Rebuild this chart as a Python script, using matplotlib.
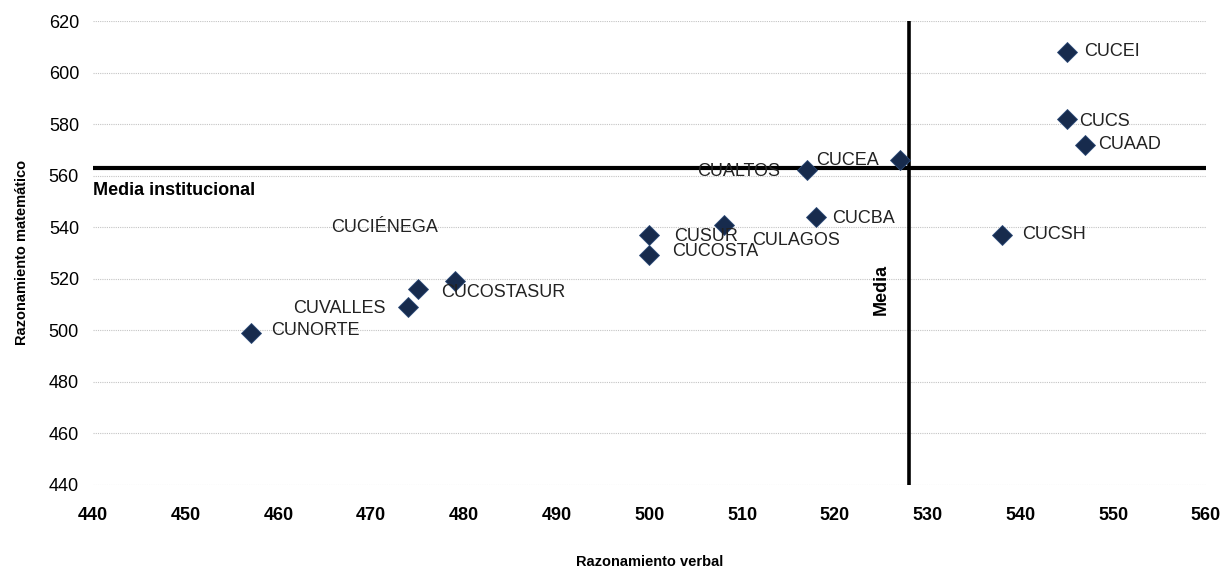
import matplotlib

matplotlib.use("Agg")
import matplotlib.pyplot as plt  # noqa: E402
from matplotlib import font_manager  # noqa: E402

names = {f.name for f in font_manager.fontManager.ttflist}
FONT = "Liberation Sans Narrow" if "Liberation Sans Narrow" in names else "Liberation Sans"
plt.rcParams["font.family"] = [FONT, "DejaVu Sans"]

# data
centros = ["CUNORTE", "CUVALLES", "CUCIÉNEGA", "CUCOSTASUR", "CUSUR", "CUCOSTA",
           "CULAGOS", "CUALTOS", "CUCEA", "CUCBA", "CUCSH", "CUCEI", "CUCS", "CUAAD"]
verbal = [457, 474, 475, 479, 500, 500, 508, 517, 527, 518, 538, 545, 545, 547]
matematico = [499, 509, 516, 519, 537, 529, 541, 562, 566, 544, 537, 608, 582, 572]
media_verbal = 528
media_mat = 563

# label offsets (pixels) and alignment, as dragged in the original
label_off = [(21, 2, "left"), (-23, -1, "right"), (20, 61, "right"), (-14, -11, "left"),
             (25, -2, "left"), (23, 4, "left"), (29, -16, "left"), (-27, -1, "right"),
             (-21, 0, "right"), (16, -2, "left"), (20, 0, "left"), (17, 0, "left"),
             (12, -3, "left"), (13, 0, "left")]

NAVY = "#172b4d"
FS = 13

fig = plt.figure(figsize=(12.23, 5.69), dpi=100)
ax = fig.add_axes([0.076, 0.148, 0.910, 0.815])

ax.set_xlim(440, 560)
ax.set_ylim(440, 620)
ax.set_xticks(range(440, 561, 10))
ax.set_yticks(range(440, 621, 20))
ax.grid(axis="y", color="#c4c4c4", lw=0.8, ls=(0, (1, 1)))
ax.set_axisbelow(True)
for s in ax.spines.values():
    s.set_visible(False)
ax.tick_params(length=0, labelsize=FS)
ax.tick_params(axis="x", pad=16)
ax.tick_params(axis="y", pad=10)
for t in ax.get_xticklabels():
    t.set_fontweight("bold")

ax.axhline(media_mat, color="black", lw=3, zorder=2)
ax.axvline(media_verbal, color="black", lw=2.6, zorder=2)

ax.plot(verbal, matematico, ls="none", marker="D", ms=10.5, color=NAVY,
        mec="#2c4a78", mew=0.6, zorder=3)
for name, x, y, (dx, dy, ha) in zip(centros, verbal, matematico, label_off):
    ax.annotate(name, (x, y), xytext=(dx, dy), textcoords="offset pixels",
                ha=ha, va="center", fontsize=FS, color="#222222", zorder=4)

ax.annotate("Media institucional", (440, media_mat), xytext=(0, -14),
            textcoords="offset pixels", ha="left", va="top", fontsize=FS,
            fontweight="bold")
ax.annotate("Media", (media_verbal, 516), xytext=(-28, 0),
            textcoords="offset pixels", ha="center", va="center", rotation=90,
            fontsize=FS, fontweight="bold")

ax.set_xlabel("Razonamiento verbal", fontsize=10.5, fontweight="bold", labelpad=22)
ax.set_ylabel("Razonamiento matemático", fontsize=10.5, fontweight="bold", labelpad=14)

fig.savefig("out.png", dpi=100)
